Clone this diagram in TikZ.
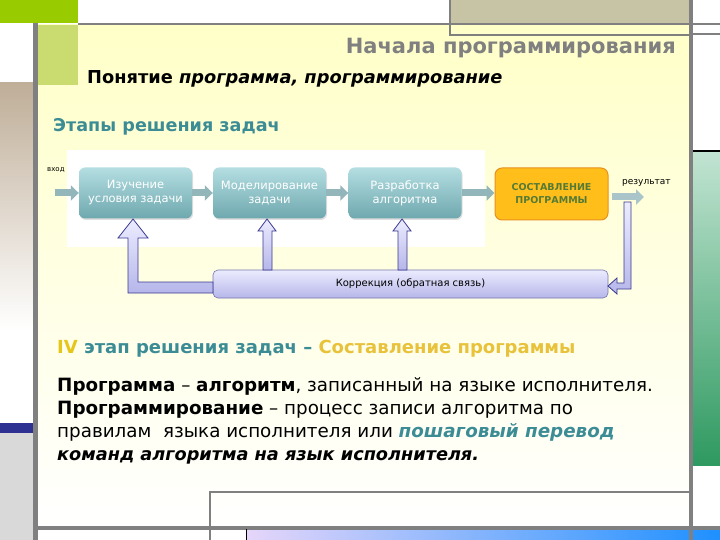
\documentclass[tikz,border=0pt]{standalone}
\usepackage{fontspec}
\setmainfont{DejaVu Sans}
\usetikzlibrary{arrows.meta,shadings,shadows,calc}
\definecolor{topgreen}{HTML}{99CC00}
\definecolor{lightgreen}{HTML}{CADB70}
\definecolor{framegray}{HTML}{808080}
\definecolor{tan}{HTML}{BFAE98}
\definecolor{navyband}{HTML}{2E3192}
\definecolor{lgray}{HTML}{D9D9D9}
\definecolor{khaki}{HTML}{C7C4A6}
\definecolor{paleyellow}{HTML}{FFFFC8}
\definecolor{midyellow}{HTML}{FFFFE8}
\definecolor{greenlt}{HTML}{C2E4D2}
\definecolor{greendk}{HTML}{2E9960}
\definecolor{stripL}{HTML}{E6D6FA}
\definecolor{stripR}{HTML}{1E90FF}
\definecolor{tealtxt}{HTML}{3C8C96}
\definecolor{boxtop}{HTML}{B4DEE2}
\definecolor{boxbot}{HTML}{6EA8AE}
\definecolor{orfill}{HTML}{FFBE1A}
\definecolor{ordraw}{HTML}{E8901E}
\definecolor{ortxt}{HTML}{557A35}
\definecolor{smallarr}{HTML}{93B6BB}
\definecolor{lavtop}{HTML}{ECECFF}
\definecolor{lavbot}{HTML}{B6B6EA}
\definecolor{lavdraw}{HTML}{3A3A90}
\definecolor{ivyellow}{HTML}{E6C619}
\definecolor{goldtxt}{HTML}{E8C23A}
\tikzset{
  stagebox/.style={rounded corners=6pt, top color=boxtop, bottom color=boxbot,
    text=white, minimum width=113pt, minimum height=51pt, align=center,
    font=\fontsize{11.5}{14}\selectfont, inner sep=1pt,
    drop shadow={opacity=0.25, shadow xshift=1pt, shadow yshift=-1.5pt}},
  progbox/.style={rounded corners=7pt, fill=orfill, draw=ordraw, line width=1pt,
    text=ortxt, minimum width=113pt, minimum height=52pt, align=center,
    font=\bfseries\fontsize{9.5}{13}\selectfont},
  corrbox/.style={rounded corners=5pt, top color=lavtop, bottom color=lavbot,
    draw=lavdraw!70, line width=0.6pt, minimum width=395pt, minimum height=28pt,
    font=\fontsize{10}{12}\selectfont},
  flowarr/.style={line width=7pt, smallarr, -{Triangle[length=8pt,width=15pt]}},
  fbarrow/.style={top color=lavtop, bottom color=lavbot, draw=lavdraw, line width=0.8pt, line join=miter},
  bodytxt/.style={anchor=base west, inner sep=0pt, font=\fontsize{18.3}{21}\selectfont},
}
\begin{document}
\begin{tikzpicture}[x=1pt,y=-1pt]
\useasboundingbox (0,0) rectangle (720,540);
\fill[white] (0,0) rectangle (720,540);
% main yellow area
\shade[top color=paleyellow, middle color=midyellow, bottom color=white] (38,25) rectangle (689,528);
% frame pieces
\fill[topgreen] (0,0) rectangle (78,23);
\fill[lightgreen] (38,25) rectangle (78,85);
\shade[top color=tan, bottom color=white] (0,83) rectangle (33,330);
\fill[navyband] (0,423) rectangle (33,433);
\fill[lgray] (0,433) rectangle (33,540);
\fill[khaki] (450,0) rectangle (689,23);
\draw[framegray, line width=1.5pt] (450,0) -- (450,35) -- (689,35);
\draw[framegray, line width=1.5pt] (689,34) -- (720,34);
\shade[top color=greenlt, bottom color=greendk] (693,151) rectangle (720,465);
\draw[black, line width=1.2pt] (690,151) -- (720,151);
\shade[left color=stripL, right color=stripR] (246,530) rectangle (720,540);
\draw[framegray, line width=1.5pt] (210,540) -- (210,492) -- (689,492);
\draw[framegray, line width=2.5pt] (78,24) -- (720,24);
\draw[framegray, line width=5pt] (35.5,23) -- (35.5,540);
\draw[framegray, line width=4pt] (691,0) -- (691,540);
\draw[framegray, line width=4pt] (38,528) -- (720,528);
\draw[black, line width=0.8pt] (246,529) -- (246,540);

% titles
\node[anchor=base east, inner sep=0pt, font=\bfseries\fontsize{21}{24}\selectfont, text=framegray] (title) at (676,54) {Начала программирования};
\node[anchor=base west, inner sep=0pt, font=\bfseries\fontsize{17.8}{20}\selectfont] (subtitle) at (87,84) {Понятие \textit{программа, программирование}};
\node[anchor=base west, inner sep=0pt, font=\bfseries\fontsize{17.6}{22}\selectfont, text=tealtxt] (stages) at (53,132) {Этапы решения задач};

% diagram backdrop
\fill[white] (67,150) rectangle (485,247);

% stage boxes
\node[stagebox] (b1) at (135.5,193) {Изучение\\условия задачи};
\node[stagebox] (b2) at (269.5,193) {Моделирование\\задачи};
\node[stagebox] (b3) at (405,193) {Разработка\\алгоритма};
\node[progbox] (b4) at (551.5,194) {СОСТАВЛЕНИЕ\\ПРОГРАММЫ};
\node[corrbox] (corr) at (410.5,284) {Коррекция (обратная связь)};

% labels
\node[font=\fontsize{7}{8}\selectfont, anchor=base west, inner sep=0pt] (inlbl) at (47,172) {вход};
\node[font=\fontsize{9}{10}\selectfont, anchor=base west, inner sep=0pt] (outlbl) at (622,185) {результат};
\coordinate (inpt) at (55,193);
\coordinate (outpt) at (644,197);
\coordinate (outst) at (612,197);

% flow arrows
\draw[flowarr] (inpt) -- (b1.west);
\draw[flowarr] (b1.east) -- (b2.west);
\draw[flowarr] (b2.east) -- (b3.west);
\draw[flowarr] (b3.east) -- (b3.east -| b4.west);
\draw[flowarr, smallarr!80] (outst) -- (outpt);

% feedback arrows
\draw[fbarrow] (133,219) -- (148,238) -- (138,238) -- (138,282) -- (213,282) -- (213,293) -- (128,293) -- (128,238) -- (118,238) -- cycle;
\draw[fbarrow] (267,219) -- (276,231) -- (272,231) -- (272,270) -- (263,270) -- (263,231) -- (258,231) -- cycle;
\draw[fbarrow] (402,219) -- (411,231) -- (407,231) -- (407,270) -- (398,270) -- (398,231) -- (393,231) -- cycle;
\draw[fbarrow] (624,202) -- (631,202) -- (631,289) -- (617,289) -- (617,294) -- (608,286) -- (617,278) -- (617,283) -- (624,283) -- cycle;

% lower text
\node[anchor=base west, inner sep=0pt, font=\bfseries\fontsize{18}{22}\selectfont] (iv) at (57,353)
  {\textcolor{ivyellow}{IV} \textcolor{tealtxt}{этап решения задач –} \textcolor{goldtxt}{Составление программы}};
\node[bodytxt] (l1) at (57,391) {\textbf{Программа} – \textbf{алгоритм}, записанный на языке исполнителя.};
\node[bodytxt] (l2) at (57,414) {\textbf{Программирование} – процесс записи алгоритма по};
\node[bodytxt] (l3) at (57,437) {правилам\ \ языка исполнителя или \textcolor{tealtxt}{\textbf{\textit{пошаговый перевод}}}};
\node[bodytxt, font=\fontsize{17.7}{21}\selectfont] (l4) at (57,460) {\textbf{\textit{команд алгоритма на язык исполнителя.}}};
\end{tikzpicture}
\end{document}
